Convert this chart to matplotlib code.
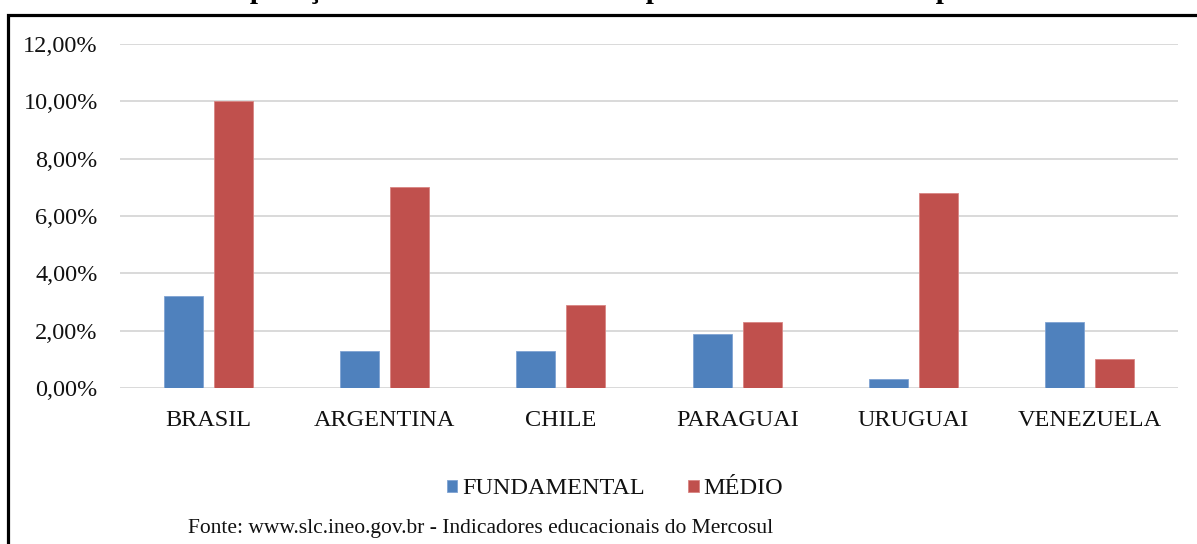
import matplotlib
matplotlib.use("Agg")
import matplotlib.pyplot as plt
from matplotlib.patches import Rectangle
from matplotlib.ticker import FuncFormatter
import numpy as np

categories = ["BRASIL", "ARGENTINA", "CHILE", "PARAGUAI", "URUGUAI", "VENEZUELA"]
fundamental = [3.2, 1.3, 1.3, 1.9, 0.3, 2.3]
medio = [10.0, 7.0, 2.9, 2.3, 6.8, 1.0]
series_names = ["FUNDAMENTAL", "MÉDIO"]
y_ticks = [0, 2, 4, 6, 8, 10, 12]
title_text = "Comparação das taxas de abandono por nível de ensino nos países"
source_text = "Fonte: www.slc.ineo.gov.br - Indicadores educacionais do Mercosul"

plt.rcParams['font.family'] = ['Liberation Serif', 'DejaVu Serif']

W, H = 1197, 544
fig = plt.figure(figsize=(W / 100, H / 100), dpi=100)

left, right = 120 / W, 1178 / W
bottom, top = 1 - 388 / H, 1 - 44 / H
ax = fig.add_axes([left, bottom, right - left, top - bottom])

x = np.arange(len(categories))
bw = 0.221
off = 0.142
blue = "#4F81BD"
red = "#C0504D"
ax.bar(x - off, fundamental, bw, color=blue, edgecolor="#7FA3D3", linewidth=0.6, zorder=3, label=series_names[0])
ax.bar(x + off, medio, bw, color=red, edgecolor="#D88583", linewidth=0.6, zorder=3, label=series_names[1])

ax.set_xlim(-0.5, len(categories) - 0.5)
ax.set_ylim(0, 12)
ax.set_yticks(y_ticks)
ax.yaxis.set_major_formatter(FuncFormatter(lambda v, p: f"{v:.2f}%".replace(".", ",")))
ax.set_xticks(x)
ax.set_xticklabels(categories)
for s in ax.spines.values():
    s.set_visible(False)
ax.grid(axis="y", color="#D9D9D9", linewidth=1.4, zorder=0)
ax.tick_params(axis="y", length=0, pad=16, labelsize=17.5, labelcolor="#111111")
ax.tick_params(axis="x", length=0, pad=15.5, labelsize=17.5, labelcolor="#111111")

handles, labels = ax.get_legend_handles_labels()
leg = fig.legend(handles, labels, loc="center", bbox_to_anchor=(615 / W, 1 - 489 / H),
                 ncol=2, frameon=False, fontsize=17.5, handlelength=0.42, handleheight=0.42,
                 handletextpad=0.2, columnspacing=1.8, borderaxespad=0, borderpad=0)
for t in leg.get_texts():
    t.set_color("#111111")

fig.text(188 / W, 1 - 528 / H, source_text, ha="left", va="center", fontsize=15.5, color="#111111")

fig.text(600 / W, 1 + 1.5 / H, title_text, ha="center", va="baseline", fontsize=21, fontweight="bold")

frame_top = 1 - 14.5 / H
frame = Rectangle((8 / W, -0.2), 3.0, frame_top + 0.2, transform=fig.transFigure,
                  fill=False, edgecolor="black", linewidth=2.3, clip_on=False)
fig.patches.append(frame)

fig.savefig("out.png", dpi=100)
